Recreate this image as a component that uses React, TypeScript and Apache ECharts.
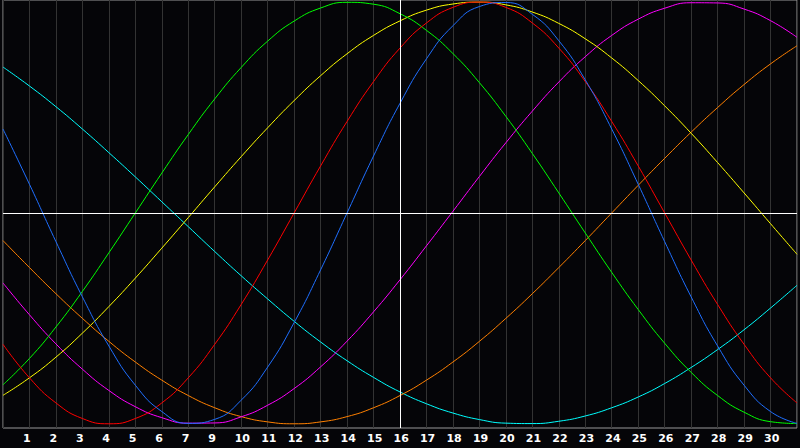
import { useRef, useEffect } from 'react'
import * as echarts from 'echarts'

// day boundaries across the plot (x positions of samples)
const dayIndex = [
  0, 1, 2, 3, 4, 5, 6, 7, 8, 9, 10, 11, 12, 13, 14, 15, 16, 17, 18, 19, 20,
  21, 22, 23, 24, 25, 26, 27, 28, 29, 30,
]

// label shown under each vertical grid line (note: the reference skips 8)
const tickLabels = [
  '', '1', '2', '3', '4', '5', '6', '7', '9', '10', '11', '12', '13', '14', '15',
  '16', '17', '18', '19', '20', '21', '22', '23', '24', '25', '26', '27', '28',
  '29', '30', '',
]

const todayIndex = 15

const blue = [
  0.398, 0.136, -0.136, -0.398, -0.631, -0.817, -0.942, -0.998, -0.979, -0.888,
  -0.731, -0.52, -0.27, 0.0, 0.27, 0.52, 0.731, 0.888, 0.979, 0.998, 0.942,
  0.817, 0.631, 0.398, 0.136, -0.136, -0.398, -0.631, -0.817, -0.942, -0.998,
]
const red = [
  -0.623, -0.782, -0.901, -0.975, -1.0, -0.975, -0.901, -0.782, -0.623, -0.434,
  -0.223, 0.0, 0.223, 0.434, 0.623, 0.782, 0.901, 0.975, 1.0, 0.975, 0.901,
  0.782, 0.623, 0.434, 0.223, 0.0, -0.223, -0.434, -0.623, -0.782, -0.901,
]
const green = [
  -0.815, -0.69, -0.541, -0.372, -0.189, 0.0, 0.189, 0.372, 0.541, 0.69, 0.815,
  0.91, 0.972, 0.999, 0.99, 0.945, 0.866, 0.756, 0.618, 0.458, 0.282, 0.095,
  -0.095, -0.282, -0.458, -0.618, -0.756, -0.866, -0.945, -0.99, -0.999,
]
const yellow = [
  -0.865, -0.782, -0.684, -0.57, -0.444, -0.309, -0.167, -0.022, 0.124, 0.267,
  0.404, 0.533, 0.651, 0.755, 0.842, 0.911, 0.962, 0.991, 1.0, 0.987, 0.953,
  0.899, 0.826, 0.735, 0.628, 0.508, 0.378, 0.239, 0.095, -0.051, -0.196,
]
const magenta = [
  -0.332, -0.483, -0.621, -0.741, -0.842, -0.919, -0.971, -0.997, -0.996, -0.967,
  -0.912, -0.833, -0.73, -0.608, -0.469, -0.317, -0.156, 0.008, 0.173, 0.333,
  0.483, 0.621, 0.741, 0.842, 0.919, 0.971, 0.997, 0.996, 0.967, 0.912, 0.833,
]
const orange = [
  -0.131, -0.259, -0.383, -0.5, -0.609, -0.707, -0.793, -0.866, -0.924, -0.966,
  -0.991, -1.0, -0.991, -0.966, -0.924, -0.866, -0.793, -0.707, -0.609, -0.5,
  -0.383, -0.259, -0.131, 0.0, 0.131, 0.259, 0.383, 0.5, 0.609, 0.707, 0.793,
]
const cyan = [
  0.692, 0.602, 0.504, 0.398, 0.286, 0.171, 0.053, -0.065, -0.183, -0.298,
  -0.408, -0.514, -0.612, -0.701, -0.78, -0.849, -0.905, -0.949, -0.98, -0.997,
  -0.999, -0.988, -0.963, -0.924, -0.873, -0.809, -0.733, -0.648, -0.554,
  -0.451, -0.343,
]

const curves: [string, number[], string][] = [
  ['cyan', cyan, '#00ffff'],
  ['orange', orange, '#ff8000'],
  ['magenta', magenta, '#ff00ff'],
  ['yellow', yellow, '#ffff00'],
  ['green', green, '#00ff00'],
  ['red', red, '#ff0000'],
  ['blue', blue, '#1f6fff'],
]

const LABEL_FONT = { color: '#ffffff', fontWeight: 'bold' as const, fontSize: 11, fontFamily: 'DejaVu Sans' }

export default function App() {
  const chartRef = useRef<HTMLDivElement>(null)

  useEffect(() => {
    if (!chartRef.current) return
    const chart = echarts.init(chartRef.current, undefined, { renderer: 'svg' })

    const option: echarts.EChartsOption = {
      animation: false,
      backgroundColor: '#050508',
      grid: {
        left: 0,
        right: 0,
        top: 0,
        bottom: 20,
        show: true,
        borderColor: '#999999',
        borderWidth: 1,
        backgroundColor: 'transparent',
      },
      xAxis: {
        type: 'value',
        min: 0,
        max: 30,
        interval: 1,
        axisLine: { show: false },
        axisTick: { show: false },
        splitLine: { show: true, lineStyle: { color: '#333333', width: 1 } },
        axisLabel: {
          margin: 5,
          ...LABEL_FONT,
          formatter: (v: number) => {
            const t = tickLabels[Math.round(v)]
            return t ? `{d|${t}}` : ''
          },
          rich: { d: { ...LABEL_FONT, width: 13, align: 'left' } },
        },
      },
      yAxis: { type: 'value', min: -1.02, max: 1.01, show: false },
      series: [
        {
          type: 'line',
          data: [],
          silent: true,
          markLine: {
            silent: true,
            symbol: 'none',
            label: { show: false },
            lineStyle: { color: '#ffffff', width: 1, type: 'solid' },
            data: [{ yAxis: 0 }, { xAxis: todayIndex }],
          },
        } as echarts.SeriesOption,
        ...curves.map(
          ([name, values, color]) =>
            ({
              name,
              type: 'line',
              data: values.map((v, i) => [dayIndex[i], v]),
              symbol: 'none',
              smooth: 0.5,
              lineStyle: { color, width: 1 },
              itemStyle: { color },
              silent: true,
            }) as echarts.SeriesOption,
        ),
      ],
    }

    chart.setOption(option, true)
    return () => chart.dispose()
  }, [])

  return (
    <div
      ref={chartRef}
      style={{ position: 'fixed', left: 0, top: 0, width: 800, height: 448 }}
    />
  )
}
